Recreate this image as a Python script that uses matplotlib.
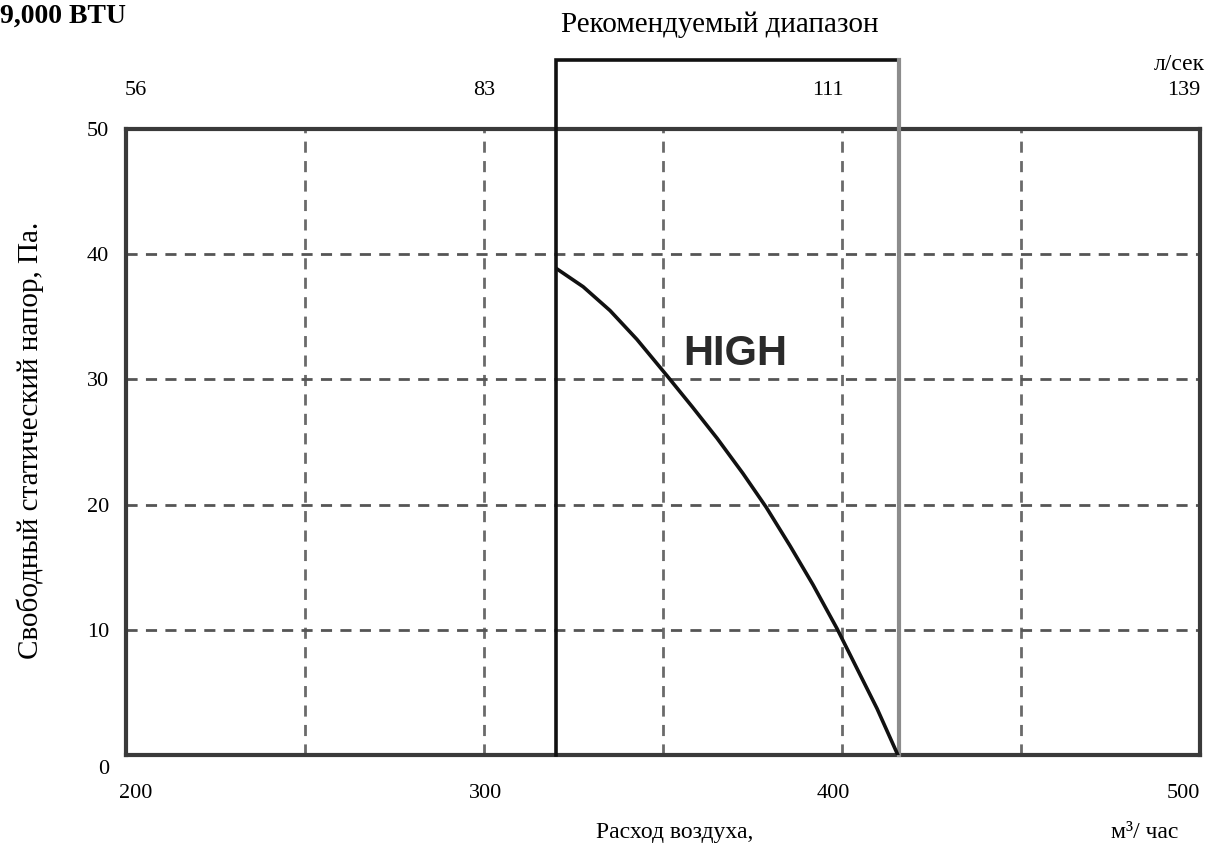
import matplotlib
matplotlib.use('Agg')
import matplotlib.pyplot as plt
from matplotlib.transforms import ScaledTranslation

# airflow, m3/h  vs  free static pressure, Pa (HIGH speed)
flow = [320.5, 327.7, 335.2, 342.7, 351.1, 358.2, 365.1, 372.3, 378.8, 385.5,
        391.9, 398.6, 404.2, 409.8, 415.6]
pressure = [38.8, 37.4, 35.5, 33.2, 30.3, 27.8, 25.3, 22.5, 19.8, 16.7,
            13.6, 10.1, 6.9, 3.7, 0]

x_ticks = [200, 300, 400, 500]
x_grid = [250, 300, 350, 400, 450]
y_ticks = [0, 10, 20, 30, 40, 50]
y_grid = [10, 20, 30, 40]
ls_labels = ['56', '83', '111', '139']   # л/сек, top scale

rec_lo, rec_hi, rec_top = 320, 416, 55.5

plt.rcParams['font.family'] = ['Liberation Serif', 'DejaVu Serif']

fig = plt.figure(figsize=(12.09, 8.46), dpi=100)
ax = fig.add_axes([126 / 1209, 1 - 755 / 846, 1074 / 1209, 626 / 846])
ax.set_xlim(200, 500)
ax.set_ylim(0, 50)

for g in x_grid:
    ax.axvline(g, color='#6a6a6a', lw=2, ls=(0, (4, 3)), zorder=1)
for g in y_grid:
    ax.axhline(g, color='#555555', lw=2, ls=(0, (4, 3)), zorder=1)

for s in ax.spines.values():
    s.set_color('#3a3a3a')
    s.set_linewidth(3)

ax.set_xticks(x_ticks)
ax.set_yticks(y_ticks)
ax.tick_params(length=0, labelsize=16, pad=21)
ax.tick_params(axis='y', pad=12)

top = ax.twiny()
top.set_xlim(ax.get_xlim())
top.set_xticks(x_ticks)
top.set_xticklabels(ls_labels)
top.tick_params(length=0, labelsize=16, pad=21)
for s in top.spines.values():
    s.set_visible(False)


def nudge(label, dx, dy):
    label.set_transform(label.get_transform() + ScaledTranslation(dx / 100, dy / 100, fig.dpi_scale_trans))


# the scanned labels sit a little off their grid lines
for lab, dx in zip(ax.get_xticklabels(), [10, 2, -9, 0]):
    nudge(lab, dx, 0)
for lab, dx in zip(top.get_xticklabels(), [10, 0, -14, 0]):
    nudge(lab, dx, 0)
ax.get_xticklabels()[-1].set_ha('right')
top.get_xticklabels()[-1].set_ha('right')
nudge(ax.get_yticklabels()[0], 0, -12)

# recommended range box
ax.plot([rec_lo, rec_lo, rec_hi], [0, rec_top, rec_top], color='#111111', lw=2.6,
        clip_on=False, zorder=4, solid_joinstyle='miter')
ax.plot([rec_hi, rec_hi], [0, rec_top], color='#8c8c8c', lw=3, clip_on=False, zorder=4)

ax.plot(flow, pressure, color='#111111', lw=2.6, zorder=5, solid_joinstyle='round')
ax.text(355.6, 32.0, 'HIGH', family='Liberation Sans', fontweight='bold', fontsize=30,
        color='#2a2a2a', ha='left', va='center')

fig.text(0, 1 - 16 / 846, '9,000 BTU', fontsize=20, fontweight='bold', va='center')
fig.text(720 / 1209, 1 - 25 / 846, 'Рекомендуемый диапазон', fontsize=21,
         ha='center', va='center')
fig.text(1179 / 1209, 1 - 64 / 846, 'л/сек', fontsize=17, ha='center', va='center')
fig.text(30 / 1209, 1 - 440 / 846, 'Свободный статический напор, Па.', fontsize=21,
         rotation=90, ha='center', va='center')
fig.text(675 / 1209, 1 - 832 / 846, 'Расход воздуха,', fontsize=17, ha='center', va='center')
fig.text(1145 / 1209, 1 - 832 / 846, 'м³/ час', fontsize=17, ha='center', va='center')

fig.savefig('out.png', dpi=100)
